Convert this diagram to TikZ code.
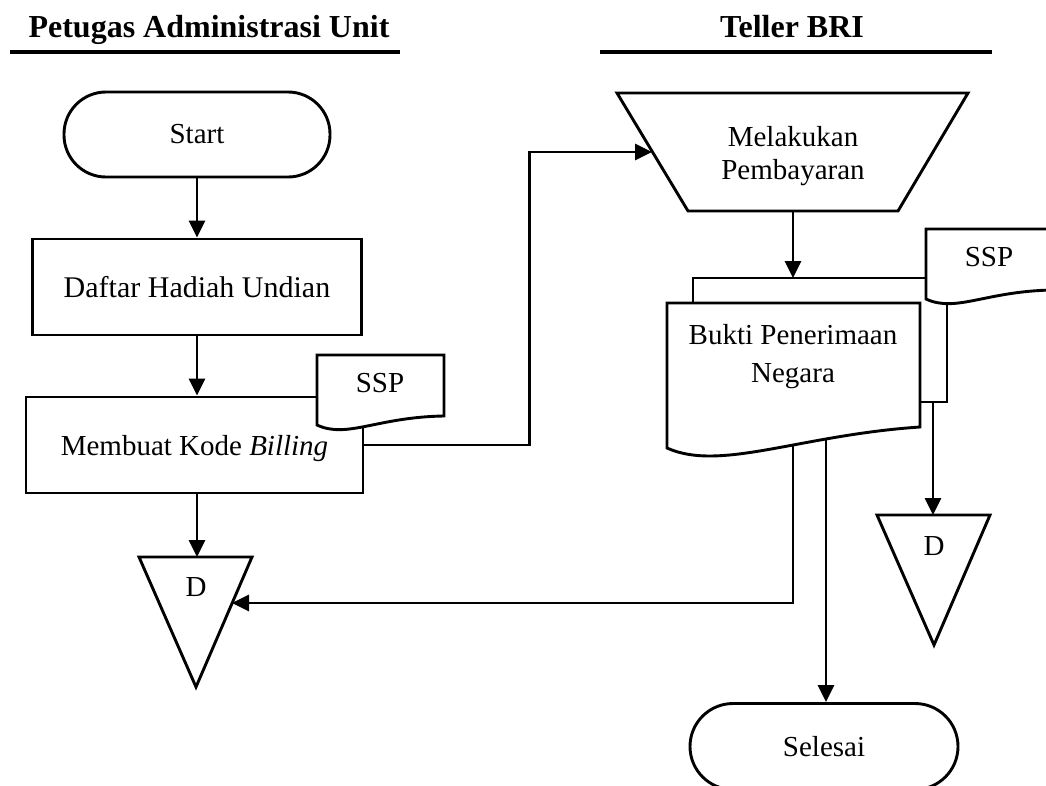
\documentclass[tikz,border=0pt]{standalone}
\usepackage{fontspec}
\setmainfont{Liberation Serif}
\usetikzlibrary{arrows.meta}
\pgfdeclarelayer{bg}
\pgfsetlayers{bg,main}
\begin{document}
\begin{tikzpicture}[x=1pt,y=-1pt,
  shapebox/.style={draw, fill=white, line width=2.9pt},
  lbl/.style={font=\fontsize{29}{34}\selectfont, inner sep=0pt},
  hdr/.style={font=\fontsize{32}{36}\selectfont\bfseries, inner sep=0pt, anchor=base},
  conn/.style={line width=2.9pt, -{Triangle[length=17pt,width=16pt]}},
]
\useasboundingbox (0,0) rectangle (1046,785);
\clip (0,0) rectangle (1046,785);

% headers
\node[hdr] (h1) at (209,37) {Petugas Administrasi Unit};
\node[hdr] (h2) at (792,37) {Teller BRI};
\draw[line width=4.2pt] (10,52) -- (400,52);
\draw[line width=4.2pt] (600,52) -- (992,52);

% left lane
\node[shapebox, lbl, rounded corners=42pt, minimum width=266pt, minimum height=85pt] (start) at (197,134.5) {Start};
\node[shapebox, lbl, font=\fontsize{30}{34}\selectfont, minimum width=329pt, minimum height=96pt] (daftar) at (197,287) {Daftar Hadiah Undian};
\node[shapebox, lbl, text depth=0pt, minimum width=337pt, minimum height=96pt] (kode) at (194.5,445) {Membuat Kode \textit{Billing}};
\draw[shapebox] (317,355) -- (444,355) -- (444,416) .. controls (377,417) and (347,439) .. (317,425) -- cycle;
\node[lbl] (ssp1) at (380,383) {SSP};
\draw[shapebox] (139,557) -- (252,557) -- (196,687) -- cycle;
\node[lbl] (d1) at (196,587) {D};
\coordinate (d1top) at (197,557);
\coordinate (d1side) at (232,603);

% right lane
\draw[shapebox] (617,93) -- (968,93) -- (898,211) -- (688,211) -- cycle;
\node[lbl, align=center, font=\fontsize{29}{33}\selectfont] (bayar) at (793,156.5) {Melakukan\\Pembayaran};
\coordinate (bayarin) at (652,152);
\coordinate (trapbot) at (793,211);

\draw[shapebox] (693,278) rectangle (947,402);
\coordinate (backtop) at (793,278);
\coordinate (backbot) at (933,402);
\draw[shapebox] (1053,229) -- (926,229) -- (926,299) .. controls (956,313) and (986,291) .. (1053,290) -- cycle;
\node[lbl] (ssp2) at (989,257) {SSP};
\draw[shapebox] (667,303) -- (920,303) -- (920,427) .. controls (800,435) and (720,472) .. (667,448) -- cycle;
\node[lbl, align=center, font=\fontsize{29}{38}\selectfont] (bukti) at (793,357) {Bukti Penerimaan\\Negara};
\coordinate (bk1) at (793,440);
\coordinate (bk2) at (826,440);

\draw[shapebox] (877,515) -- (990,515) -- (934,645) -- cycle;
\node[lbl] (d2) at (934,546) {D};
\coordinate (d2top) at (933,515);

\node[shapebox, lbl, rounded corners=43pt, minimum width=268pt, minimum height=86pt] (selesai) at (824,746.5) {Selesai};

% connectors
\begin{pgfonlayer}{bg}
\draw[conn] (start.south) -- (daftar.north);
\draw[conn] (daftar.south) -- (daftar.south |- kode.north);
\draw[conn] (kode.south -| d1top) -- (d1top);
\draw[conn] (kode.east) -- ++(165,0) |- (bayarin);
\draw[conn] (trapbot) -- (backtop);
\draw[conn] (backbot) -- (d2top);
\draw[conn] (bk1) |- (d1side);
\draw[conn] (bk2) -- (bk2 |- selesai.north);
\end{pgfonlayer}
\end{tikzpicture}
\end{document}
